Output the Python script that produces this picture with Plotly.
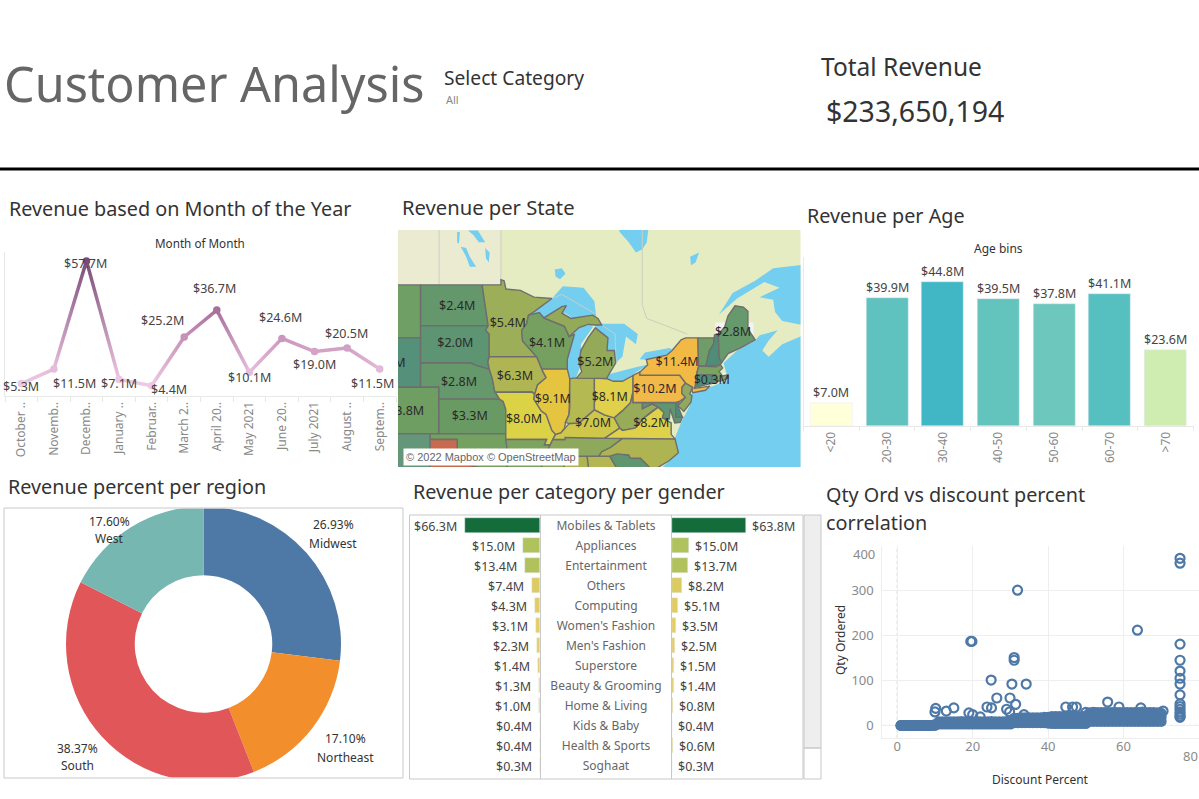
import math
import plotly.graph_objects as go

W, H = 1199, 799

# ---------- data ----------
months = ["October ..", "Novemb..", "Decemb..", "January ..", "Februar..", "March 2..", "April 20..",
          "May 2021", "June 20..", "July 2021", "August ..", "Septem.."]
month_rev = [5.3, 11.5, 57.7, 7.1, 4.4, 25.2, 36.7, 10.1, 24.6, 19.0, 20.5, 11.5]
month_col = ["#edc8e2", "#e6bcdc", "#7b4b77", "#ecc6e2", "#eec9e4", "#c791b8", "#aa6f9b",
             "#e6bedc", "#cb97bd", "#d3a4c6", "#d1a1c4", "#e4b9d8"]

age_bins = ["<20", "20-30", "30-40", "40-50", "50-60", "60-70", ">70"]
age_rev = [7.0, 39.9, 44.8, 39.5, 37.8, 41.1, 23.6]
age_col = ["#ffffd9", "#5fc2be", "#41b6c4", "#63c3bd", "#6ec7bc", "#56bfc0", "#cfedb0"]

regions = ["Midwest", "Northeast", "South", "West"]
region_pct = [26.93, 17.10, 38.37, 17.60]
region_col = ["#4e79a7", "#f28e2b", "#e15759", "#76b7b2"]

categories = ["Mobiles & Tablets", "Appliances", "Entertainment", "Others", "Computing", "Women's Fashion",
              "Men's Fashion", "Superstore", "Beauty & Grooming", "Home & Living", "Kids & Baby",
              "Health & Sports", "Soghaat"]
rev_left = [66.3, 15.0, 13.4, 7.4, 4.3, 3.1, 2.3, 1.4, 1.3, 1.0, 0.4, 0.4, 0.3]
rev_right = [63.8, 15.0, 13.7, 8.2, 5.1, 3.5, 2.5, 1.5, 1.4, 0.8, 0.4, 0.6, 0.3]
col_left = ["#146c3a", "#afc25c", "#b1c25c", "#dccb62", "#e2cc63", "#e4cd65", "#e5cd68",
            "#e5cd68", "#e5cd68", "#e5cd68", "#e5cd68", "#e5cd68", "#e5cd68"]
col_right = ["#146c3a", "#afc25c", "#b1c25c", "#dacb62", "#e0cc63", "#e4cd65", "#e5cd68",
             "#e5cd68", "#e5cd68", "#e5cd68", "#e5cd68", "#e5cd68", "#e5cd68"]

out_x = [75, 75, 75, 75, 75, 75, 75, 75, 75, 75, 75, 75, 75, 75, 75, 31.9, 63.7, 19.8, 19.5, 31, 31, 24.9, 30.4,
         34.2, 26.4, 29.9, 31.4, 23.8, 25, 29, 29.8, 33.6, 10.2, 10, 13, 15, 19, 20, 22, 44.7, 46.5, 47.5,
         55.8, 58.8, 64.6, 70.5, 52, 50]
out_y = [372, 361, 181, 145, 121, 105, 92, 68, 48, 42, 36, 30, 25, 20, 18, 301, 212, 187, 187, 151, 145, 101, 92,
         92, 61, 61, 47, 41, 39, 36, 30, 24, 38, 30, 32, 39, 28, 24, 19, 41, 41, 41,
         52, 41, 39, 32, 29, 29]
band_x = [1, 2, 3, 4, 5, 6, 7, 8, 9, 10, 11, 12, 13, 14, 15, 16, 17, 18, 19, 20, 21, 22, 23, 24, 25, 26, 27, 28, 29, 30,
          31, 32, 33, 34, 35, 36, 37, 38, 39, 40, 41, 42, 43, 44, 45, 46, 47, 48, 49, 50, 51, 52, 53, 54, 55, 56, 57,
          58, 59, 60, 61, 62, 63, 64, 65, 66, 67, 68, 69, 70]
band_low = [0, 0, 0, 0, 0, 0, 0, 0, 0, 0, 3, 3, 3, 3, 3, 3, 3, 3, 3, 3, 3, 3, 3, 3, 3, 3, 3, 3, 3, 3,
            6, 6, 6, 6, 6, 6, 6, 6, 6, 5, 4, 4, 4, 4, 4, 4, 4, 4, 4, 4, 9, 9, 9, 9, 9, 9, 9, 9, 9, 9,
            9, 9, 9, 9, 9, 9, 9, 9, 9, 9]
band_mid = [0, 0, 0, 0, 0, 0, 0, 0, 0, 1, 5, 5, 5, 5, 6, 5, 6, 6, 6, 5, 6, 6, 5, 6, 6, 6, 5, 6, 6, 6,
            11, 11, 12, 11, 12, 12, 11, 12, 12, 12, 12, 12, 13, 12, 12, 13, 12, 12, 13, 12, 19, 19, 19, 20, 19, 19, 20,
            19, 19, 20, 19, 20, 19, 19, 20, 19, 19, 20, 19, 19]
band_high = [0, 0, 0, 0, 0, 0, 0, 0, 0, 2, 8, 8, 8, 8, 8, 8, 9, 8, 8, 8, 9, 8, 8, 8, 9, 8, 8, 8, 9, 9,
             16, 16, 17, 17, 17, 17, 17, 17, 18, 18, 20, 20, 20, 20, 20, 21, 20, 20, 20, 21, 28, 28, 29, 29, 29, 29, 29,
             29, 29, 29, 29, 29, 29, 29, 30, 29, 29, 29, 28, 27]

land_bg = "#e6ecc2"
water = "#74cef0"
states = {
    "MT": ("#6f9f64", [(-116, 49), (-104.05, 49), (-104.05, 45), (-116, 45)]),
    "WY": ("#55907a", [(-111, 45), (-104.05, 45), (-104.05, 41), (-111, 41)]),
    "ND": ("#65976c", [(-104.05, 49), (-97.23, 49), (-96.9, 47.5), (-96.56, 45.94), (-104.05, 45.94)]),
    "SD": ("#5d9472", [(-104.05, 45.94), (-96.56, 45.94), (-96.85, 45.6), (-96.45, 45.3), (-96.45, 43.5), (-96.6, 43.1),
                       (-96.44, 42.49), (-97.9, 42.8), (-98.5, 43.0), (-104.05, 43.0)]),
    "NE": ("#65996b", [(-104.05, 43), (-98.5, 43), (-97.9, 42.8), (-96.44, 42.49), (-96.1, 41.7), (-95.85, 40.7),
                       (-95.31, 40), (-102.05, 40), (-102.05, 41), (-104.05, 41)]),
    "KS": ("#6a9a63", [(-102.05, 40), (-95.31, 40), (-94.9, 39.8), (-94.61, 39.1), (-94.62, 37), (-102.04, 37)]),
    "CO": ("#6f9e62", [(-109.05, 41), (-102.05, 41), (-102.04, 37), (-109.05, 37)]),
    "OK": ("#74a160", [(-103, 37), (-94.62, 37), (-94.43, 35.4), (-94.48, 33.64), (-96, 33.8), (-97.5, 33.9),
                       (-100, 34.56), (-100, 36.5), (-103, 36.5)]),
    "TX": ("#c96a4f", [(-103.04, 36.5), (-100, 36.5), (-100, 34.56), (-97.5, 33.9), (-94.04, 33.55), (-94.04, 31),
                       (-103.06, 31)]),
    "NM": ("#64977a", [(-109.05, 37), (-103, 37), (-103.04, 31), (-109.05, 31)]),
    "MN": ("#9dae58", [(-97.23, 49), (-95.15, 49), (-95.15, 49.38), (-94.8, 49.3), (-94.6, 48.7), (-93, 48.6),
                       (-91.5, 48.1), (-89.5, 48.0), (-91.5, 47), (-92.1, 46.75), (-92.3, 46.1), (-92.85, 45.6),
                       (-92.75, 44.75), (-91.2, 43.5), (-96.45, 43.5), (-96.45, 45.3), (-96.85, 45.6), (-96.56, 45.94),
                       (-96.9, 47.5)]),
    "WI": ("#75a05f", [(-92.1, 46.75), (-90.9, 46.95), (-90.4, 46.55), (-88.1, 45.9), (-87.6, 45.1), (-87.0, 45.3),
                       (-87.8, 43.3), (-87.8, 42.5), (-90.64, 42.5), (-91.2, 43.5), (-92.75, 44.75), (-92.85, 45.6),
                       (-92.3, 46.1)]),
    "IA": ("#aeb552", [(-96.45, 43.5), (-91.2, 43.5), (-90.64, 42.5), (-90.15, 41.8), (-91.1, 41.2), (-91.42, 40.38),
                       (-91.7, 40.6), (-95.77, 40.58), (-95.85, 40.7), (-96.1, 41.7), (-96.44, 42.49), (-96.6, 43.1)]),
    "MO": ("#dcd245", [(-95.77, 40.58), (-91.7, 40.6), (-91.42, 40.38), (-91.5, 40), (-90.7, 39), (-90.15, 38.7),
                       (-89.5, 37.3), (-89.1, 36.95), (-89.4, 36.5), (-89.7, 36), (-90.35, 36), (-90.1, 36.5),
                       (-94.62, 36.5), (-94.62, 37), (-94.61, 39.1), (-94.9, 39.8), (-95.31, 40)]),
    "AR": ("#7ca45f", [(-94.62, 36.5), (-90.1, 36.5), (-90.35, 36), (-89.7, 36), (-91.1, 33), (-94.04, 33),
                       (-94.04, 33.55), (-94.48, 33.64), (-94.43, 35.4)]),
    "MS": ("#8aa95c", [(-90.3, 35), (-88.2, 35), (-88.1, 32.8), (-91.1, 32.8)]),
    "AL": ("#aeb452", [(-88.2, 35), (-85.6, 35), (-85.2, 32.8), (-88.1, 32.8)]),
    "GA": ("#b3b652", [(-85.6, 35), (-83.1, 35), (-81, 32), (-85.2, 32)]),
    "SC": ("#5f9670", [(-83.1, 35), (-82.3, 35.2), (-81, 35.1), (-80.8, 34.8), (-79.7, 34.8), (-78.55, 33.86),
                       (-79.5, 33), (-81, 32)]),
    "NC": ("#aeb452", [(-84.32, 35), (-84.0, 35.4), (-83, 35.8), (-81.7, 36.59), (-75.87, 36.55), (-75.5, 35.3),
                       (-76.5, 34.6), (-77.9, 33.9), (-78.55, 33.86), (-79.7, 34.8), (-80.8, 34.8), (-81, 35.1),
                       (-82.3, 35.2), (-83.1, 35)]),
    "TN": ("#8fa95c", [(-90.3, 35), (-89.7, 36), (-89.4, 36.5), (-88.07, 36.5), (-88.05, 36.68), (-83.68, 36.6),
                       (-81.7, 36.59), (-83, 35.8), (-84.0, 35.4), (-84.32, 35)]),
    "KY": ("#cfc74a", [(-89.4, 36.5), (-89.1, 36.95), (-88.5, 37.1), (-87.6, 37.9), (-86.5, 37.95), (-85.4, 38.7),
                       (-84.8, 39.1), (-83.7, 38.65), (-82.6, 38.4), (-82, 37.5), (-83.68, 36.6), (-88.05, 36.68),
                       (-88.07, 36.5)]),
    "IL": ("#e5c43f", [(-90.64, 42.5), (-87.8, 42.5), (-87.53, 41.7), (-87.53, 39.35), (-87.6, 38.7), (-88.0, 38),
                       (-88.1, 37.5), (-88.5, 37.1), (-89.1, 36.95), (-89.5, 37.3), (-90.15, 38.7), (-90.7, 39),
                       (-91.5, 40), (-91.42, 40.38), (-91.1, 41.2), (-90.15, 41.8)]),
    "IN": ("#b5b952", [(-87.53, 41.7), (-87.2, 41.76), (-84.8, 41.76), (-84.8, 39.1), (-85.4, 38.7), (-86.5, 37.95),
                       (-87.6, 37.9), (-88.0, 38), (-87.6, 38.7), (-87.53, 39.35)]),
    "OH": ("#e0d04b", [(-84.8, 41.76), (-83.45, 41.73), (-82.7, 41.5), (-81.7, 41.5), (-80.52, 41.98), (-80.52, 40.64),
                       (-80.8, 39.7), (-81.7, 39), (-82.6, 38.4), (-83.7, 38.65), (-84.8, 39.1)]),
    "MI": ("#95aa58", [(-86.8, 41.76), (-84.8, 41.76), (-83.45, 41.73), (-83.1, 42.2), (-82.45, 43), (-82.6, 44),
                       (-83.4, 44), (-83.3, 45), (-84.7, 45.78), (-85.5, 45), (-86.3, 44), (-86.5, 43), (-86.2, 42.3)]),
    "MIU": ("#95aa58", [(-90.4, 46.55), (-88.4, 47.4), (-87.9, 47.47), (-88.4, 46.9), (-87.4, 46.5), (-86, 46.67),
                        (-85, 46.75), (-84.4, 46.5), (-84, 46), (-84.7, 46), (-85.5, 46.05), (-86.5, 45.8),
                        (-87.6, 45.1), (-88.1, 45.9)]),
    "WV": ("#97ab59", [(-82.6, 38.4), (-81.7, 39), (-80.8, 39.7), (-80.52, 40.64), (-80.52, 39.72), (-79.48, 39.72),
                       (-79.48, 39.2), (-78.4, 39.6), (-77.72, 39.32), (-78.35, 39), (-79.3, 38.4), (-80.3, 37.5),
                       (-81.7, 37.3), (-82, 37.5)]),
    "VA": ("#dfd24a", [(-83.68, 36.6), (-82, 37.5), (-81.7, 37.3), (-80.3, 37.5), (-79.3, 38.4), (-78.35, 39),
                       (-77.72, 39.32), (-77.1, 38.85), (-77.25, 38.4), (-76.3, 37.95), (-76.3, 36.95), (-75.87, 36.55),
                       (-81.7, 36.59)]),
    "MD": ("#5f9670", [(-79.48, 39.72), (-75.79, 39.72), (-75.79, 38.46), (-75.05, 38.45), (-75.3, 38.0), (-75.9, 37.95),
                       (-76.3, 38.9), (-76.4, 39.2), (-76.5, 38.3), (-77.25, 38.4), (-77.1, 38.85), (-77.72, 39.32),
                       (-78.4, 39.6), (-79.48, 39.2)]),
    "DE": ("#4a8d7a", [(-75.79, 39.72), (-75.4, 39.8), (-75.55, 39.4), (-75.05, 38.45), (-75.79, 38.46)]),
    "PA": ("#f0b948", [(-80.52, 41.98), (-79.76, 42.27), (-79.76, 42), (-75.35, 42), (-74.7, 41.36), (-75.1, 41),
                       (-75.13, 40.5), (-74.73, 40.15), (-75.4, 39.8), (-75.79, 39.72), (-80.52, 39.72), (-80.52, 40.64)]),
    "NJ": ("#8fa95e", [(-74.7, 41.36), (-73.9, 41), (-74.25, 40.45), (-74.0, 40.3), (-74.1, 39.75), (-74.9, 38.95),
                       (-75.55, 39.45), (-74.73, 40.15), (-75.13, 40.5), (-75.1, 41)]),
    "NY": ("#f2b945", [(-79.76, 42), (-79.76, 42.27), (-78.9, 42.85), (-79.05, 43.27), (-76.8, 43.63), (-76.2, 44.0),
                       (-75.2, 44.85), (-74.7, 45), (-73.34, 45), (-73.3, 43.6), (-73.25, 42.75), (-73.5, 42.05),
                       (-73.5, 41.3), (-73.65, 41), (-73.7, 40.9), (-72, 41.1), (-72.5, 40.75), (-73.9, 40.55),
                       (-74.0, 40.7), (-73.9, 41), (-74.7, 41.36), (-75.35, 42)]),
    "VT": ("#6e9d67", [(-73.34, 45), (-71.5, 45), (-71.6, 44.5), (-72.05, 44), (-72.46, 42.73), (-73.25, 42.75),
                       (-73.3, 43.6)]),
    "NH": ("#4d8e78", [(-71.5, 45.25), (-71.08, 45.3), (-70.98, 43.4), (-70.7, 43.05), (-70.85, 42.87), (-72.46, 42.73),
                       (-72.05, 44), (-71.6, 44.5)]),
    "ME": ("#66996c", [(-71.08, 45.3), (-70.4, 45.8), (-70.0, 46.7), (-69.23, 47.46), (-68.3, 47.35), (-67.8, 47.05),
                       (-67.8, 45.7), (-67.0, 44.85), (-68.5, 44.25), (-70, 43.75), (-70.7, 43.05), (-70.98, 43.4)]),
    "MA": ("#7aa360", [(-73.5, 42.05), (-73.25, 42.75), (-71.3, 42.7), (-70.85, 42.87), (-70.6, 42.6), (-71, 42.3),
                       (-70.6, 41.95), (-70, 42.05), (-70.0, 41.75), (-70.6, 41.55), (-71.12, 41.5), (-71.38, 42.02)]),
    "CT": ("#4f8f78", [(-73.5, 42.05), (-71.8, 42.02), (-71.85, 41.32), (-73.65, 41)]),
    "RI": ("#4e8f78", [(-71.8, 42.02), (-71.38, 42.02), (-71.12, 41.5), (-71.85, 41.32)]),
}
land_extent = [(-110, 30), (-55, 30), (-55, 56), (-110, 56)]
west_canada = [(-110, 49), (-95.15, 49), (-95.15, 56), (-110, 56)]
water_bodies = [
    [(-61, 33), (-78.5, 33), (-76.5, 34.6), (-75.5, 35.3), (-75.9, 36.6), (-75.2, 38), (-74, 39.8), (-74, 40.6),
     (-72, 41), (-70, 41.6), (-70.5, 43), (-69, 44), (-67, 44.8), (-66.5, 45.2), (-64.5, 45.6), (-65.5, 44.8),
     (-66.2, 44), (-65.5, 43.5), (-64, 44.5), (-61, 45.4), (-61, 45.9), (-64, 46.3), (-64.8, 47), (-65, 47.9),
     (-66.5, 48.1), (-64.3, 48.8), (-66, 49.2), (-69, 48), (-71, 46.8), (-69.5, 48.4), (-67, 49.3), (-65, 50.2), (-61, 50.5)],
    [(-92.1, 46.7), (-89.5, 48.0), (-88.3, 48.9), (-86, 48.8), (-84.8, 47.8), (-84.6, 46.6), (-85, 46.7), (-87, 46.4),
     (-88, 46.9), (-90.5, 46.5)],
    [(-87.9, 41.6), (-86.9, 41.7), (-86.2, 43), (-86.3, 44.5), (-85, 45.8), (-85, 46.0), (-87, 45.9), (-88, 44.5),
     (-87.8, 43), (-87.8, 42)],
    [(-84.7, 46.1), (-83.5, 46.1), (-81.5, 46.1), (-80, 45.3), (-80.2, 44.5), (-81.3, 45.1), (-81.7, 43.5), (-82.45, 43),
     (-82.6, 44), (-83.4, 44), (-83.3, 45), (-84.7, 45.8)],
    [(-83.45, 41.7), (-82.7, 41.5), (-81.7, 41.5), (-78.9, 42.85), (-80, 42.7), (-83.1, 42.1)],
    [(-79.8, 43.3), (-79, 43.27), (-76.8, 43.63), (-76.2, 44.1), (-76.5, 44.2), (-79.2, 43.85)],
    [(-98.8, 52.8), (-97.7, 52.8), (-96.9, 52.0), (-97.6, 52.0), (-98.2, 52.5)],
    [(-99.6, 51.7), (-99, 51.6), (-98.6, 51.0), (-97.9, 50.3), (-98.6, 50.3), (-99.0, 51.0)],
    [(-96.9, 51.6), (-96.4, 51.3), (-96.5, 50.6), (-96.8, 50.9)],
    [(-100, 52.7), (-99.7, 52.7), (-99.8, 51.9), (-100, 52)],
    [(-89.2, 50.1), (-88.4, 50.2), (-88.0, 49.8), (-88.6, 49.4), (-89.1, 49.6)],
    [(-82.2, 53), (-78.8, 53), (-79, 52), (-79.5, 51.5), (-80.2, 51.3), (-81, 52), (-82, 52.7)],
    [(-74.2, 51), (-73.2, 51.3), (-73.6, 50.6), (-74.1, 50.4)],
]
halos = [[(-71.4, 45), (-67.2, 45), (-67.2, 46.2), (-71.4, 46.2)],
         [(-70.6, 40.8), (-69.3, 40.8), (-69.3, 42.2), (-70.6, 42.2)],
         [(-78, 43.5), (-76.2, 43.5), (-76.2, 43.8), (-78, 43.8)]]
borders = [
    [(-89.5, 48), (-88.4, 48.3), (-84.8, 46.9)],
    [(-84, 46), (-82.5, 45.3), (-82.4, 43)],
    [(-79.5, 53), (-79.5, 47.5), (-79, 46.5), (-74.5, 45.3)],
    [(-95.15, 49.4), (-95.15, 53)],
    [(-102, 49), (-102, 53)],
    [(-74.5, 45), (-71.5, 45)],
]
map_labels = ["$2.4M", "$5.4M", "$4.1M", "$2.0M", "$5.2M", "$2.8M", "$6.3M", "$9.1M", "$8.1M", "$3.3M", "$8.0M",
              "$7.0M", "$8.2M", "$10.2M", "$11.4M", "$0.3M", "$2.8M", "$1.9M", "$3.8M"]
label_lon = [-100.0, -94.4, -90.05, -100.2, -84.7, -99.8, -93.6, -89.4, -83.1, -98.6, -92.6,
             -84.95, -78.5, -78.1, -75.65, -71.8, -69.45, -107.7, -105.65]
label_lat = [47.4, 46.1, 44.5, 44.5, 43.03, 41.4, 41.9, 39.9, 40.1, 38.45, 38.2,
             37.85, 37.85, 40.8, 43.0, 41.5, 45.4, 42.9, 38.95]

# ---------- helpers ----------
FONT = "Noto Sans"


def dx(a, b):
    return [a / W, b / W]


def dy(top, bottom):
    return [1 - bottom / H, 1 - top / H]


def merc(lat):
    return 180 / math.pi * math.log(math.tan(math.pi / 4 + math.radians(lat) / 2))


annotations = []


def label(x, y, text, size, color="#333333", anchor="left", font=FONT, **kw):
    annotations.append(dict(xref="paper", yref="paper", x=(x - 2 if anchor == "left" else x) / W, y=1 - y / H,
                            text=text, showarrow=False, xanchor=anchor, yanchor="middle",
                            font=dict(size=size, color=color, family=font), **kw))


fig = go.Figure()

# ---------- line chart ----------
xs = list(range(len(months)))
for i in range(len(months) - 1):
    fig.add_trace(go.Scatter(x=xs[i:i + 2], y=month_rev[i:i + 2], mode="lines", hoverinfo="skip",
                             customdata=month_col[i:i + 2],
                             line=dict(width=3.5, color=month_col[i] if month_rev[i] < month_rev[i + 1] else month_col[i + 1]),
                             showlegend=False, xaxis="x", yaxis="y", meta="grad"))
fig.add_trace(go.Scatter(x=xs, y=month_rev, mode="markers", marker=dict(size=7.5, color=month_col), showlegend=False,
                         xaxis="x", yaxis="y"))
month_dx = [0, 21, -1, 0, 17, -22, -2, 0, -1, 0, -1, -7]
month_dy = [-3, -14, -3, -4, -4, 17, 22, -5, 21, -13, 15, -14]
for i, v in enumerate(month_rev):
    annotations.append(dict(xref="x", yref="y", x=xs[i], y=v, text=f"${v:.1f}M", showarrow=False, xshift=month_dx[i],
                            yshift=month_dy[i], font=dict(size=12.5, color="#444444", family=FONT)))

# ---------- map ----------
MX0, MXS = -106.55, 9.03
map_kw = dict(xaxis="x2", yaxis="y2", hoverinfo="skip", showlegend=False)


def poly(pts, fill, line=None, width=0):
    fig.add_trace(go.Scatter(x=[p[0] for p in pts] + [pts[0][0]], y=[merc(p[1]) for p in pts] + [merc(pts[0][1])],
                             mode="lines", fill="toself", fillcolor=fill,
                             line=dict(color=line or fill, width=width), **map_kw))


poly(land_extent, land_bg)
poly(west_canada, "#ebebd2")
for h in halos:
    poly(h, "#f4f4f4")
for w in water_bodies:
    poly(w, water)
for b in borders:
    fig.add_trace(go.Scatter(x=[p[0] for p in b], y=[merc(p[1]) for p in b], mode="lines",
                             line=dict(color="#c9cfc0", width=1), **map_kw))
for code, (c, pts) in states.items():
    poly(pts, c, "#6e6e6e", 1.4)
fig.add_trace(go.Scatter(x=label_lon, y=[merc(v) for v in label_lat], text=map_labels, mode="text",
                         textfont=dict(size=12.5, color="#2a2a2a", family=FONT), cliponaxis=True, **map_kw))

# ---------- age bars ----------
age_pos = list(range(7))
fig.add_trace(go.Bar(x=age_pos, y=age_rev, width=0.755, marker=dict(color=age_col), showlegend=False,
                     xaxis="x3", yaxis="y3"))
for p, v in zip(age_pos, age_rev):
    annotations.append(dict(xref="x3", yref="y3", x=p, y=v, text=f"${v:.1f}M", showarrow=False, yanchor="bottom",
                            font=dict(size=12.5, color="#444444", family=FONT)))

# ---------- pie ----------
fig.add_trace(go.Pie(labels=regions, values=region_pct, hole=0.5, sort=False, direction="clockwise", rotation=0,
                     marker=dict(colors=region_col), textinfo="none", showlegend=False,
                     domain=dict(x=dx(66, 341), y=dy(506.5, 781.5))))

# ---------- butterfly ----------
rows = list(range(len(categories)))
fig.add_trace(go.Bar(y=rows, x=rev_left, orientation="h", width=0.75, marker=dict(color=col_left), showlegend=False,
                     xaxis="x4", yaxis="y4"))
fig.add_trace(go.Bar(y=rows, x=rev_right, orientation="h", width=0.75, marker=dict(color=col_right), showlegend=False,
                     xaxis="x5", yaxis="y5"))
for r, a, b in zip(rows, rev_left, rev_right):
    annotations.append(dict(xref="x4", yref="y4", x=a, y=r, text=f"${a:.1f}M", showarrow=False, xanchor="right",
                            xshift=-6, yshift=-0.5, font=dict(size=12.5, color="#444444", family=FONT)))
    annotations.append(dict(xref="x5", yref="y5", x=b, y=r, text=f"${b:.1f}M", showarrow=False, xanchor="left",
                            xshift=4, yshift=-0.5, font=dict(size=12.5, color="#444444", family=FONT)))
fig.add_trace(go.Scatter(y=rows, x=[0.5] * len(rows), text=categories, mode="text", showlegend=False,
                         textfont=dict(size=12, color="#666666", family=FONT), xaxis="x6", yaxis="y6"))

# ---------- scatter ----------
sx = band_x + band_x + band_x
sy = band_low + band_mid + band_high
fig.add_trace(go.Scatter(x=sx, y=sy, mode="markers", showlegend=False, xaxis="x7", yaxis="y7",
                         marker=dict(size=11, color="#4e79a7", line=dict(width=0))))
fig.add_trace(go.Scatter(x=out_x, y=out_y, mode="markers", showlegend=False, xaxis="x7", yaxis="y7",
                         marker=dict(size=9, color="rgba(0,0,0,0)", line=dict(color="#4e79a7", width=2.2))))

# ---------- text ----------
label(4, 83, "Customer Analysis", 48.5, "#666666")
label(444, 77, "Select Category", 19.2, "#333333")
label(446, 100, "All", 11, "#888888")
label(821, 66, "Total Revenue", 24.5, "#333333")
label(826, 111, "$233,650,194", 28.5, "#333333")
label(9, 209, "Revenue based on Month of the Year", 19.8)
label(402, 207, "Revenue per State", 20.2)
label(807, 215, "Revenue per Age", 19.8)
label(8, 486, "Revenue percent per region", 19.8)
label(413, 492, "Revenue per category per gender", 19.8)
label(826, 494, "Qty Ord vs discount percent", 19.8)
label(826, 522, "correlation", 19.8)
label(200, 243, "Month of Month", 11.7, anchor="center")
label(998, 248, "Age bins", 12, anchor="center")
label(1040, 779, "Discount Percent", 12, anchor="center")
label(840, 640, "Qty Ordered", 12, anchor="center", textangle=-90)
label(864, 554, "400", 13, "#8a8a8a", anchor="center")
label(1190, 756, "80", 13, "#8a8a8a", anchor="center")
region_pos = [(333, 524, 333, 543), (345, 738, 345, 757), (77, 748, 77, 765), (109, 521, 109, 538)]
for name, pct, (a, b, c, d) in zip(regions, region_pct, region_pos):
    label(a, b, f"{pct:.2f}%", 12, "#333333", anchor="center")
    label(c, d, name, 12, "#333333", anchor="center")
label(490.5, 456.5, "© 2022 Mapbox © OpenStreetMap", 11, "#666666", anchor="center", font="Liberation Sans",
      bgcolor="#ffffff", borderpad=2)


# ---------- shapes ----------
def rect(x0, y0, x1, y1, line="#c8c8c8", fill=None, width=1):
    return dict(type="rect", xref="paper", yref="paper", x0=x0 / W, x1=x1 / W, y0=1 - y0 / H, y1=1 - y1 / H,
                line=dict(color=line, width=width), fillcolor=fill, layer="above")


shapes = [
    dict(type="rect", xref="paper", yref="paper", x0=0, x1=1, y0=1 - 170.5 / H, y1=1 - 167.5 / H,
         fillcolor="#000000", line=dict(width=0), layer="above"),
    rect(0, 500, 410, 508, "#ffffff", "#ffffff"),
    rect(0, 778, 410, 790, "#ffffff", "#ffffff"),
    rect(4, 508, 403, 778),
    rect(409.5, 515, 803, 779),
    dict(type="line", xref="paper", yref="paper", x0=540.5 / W, x1=540.5 / W, y0=1 - 515 / H, y1=1 - 779 / H,
         line=dict(color="#c8c8c8", width=1), layer="above"),
    dict(type="line", xref="paper", yref="paper", x0=671.5 / W, x1=671.5 / W, y0=1 - 515 / H, y1=1 - 779 / H,
         line=dict(color="#c8c8c8", width=1), layer="above"),
    rect(804, 515, 821, 748, "#c8c8c8", "#eeeeee"),
    rect(804, 748, 821, 779),
    dict(type="line", xref="x7", yref="y7", x0=0, x1=0, y0=-28, y1=400, line=dict(color="#b5b5b5", width=1, dash="dot"),
         layer="below"),
    dict(type="line", xref="x7", yref="y7", x0=-4, x1=80, y0=0, y1=0, line=dict(color="#b5b5b5", width=1, dash="dot"),
         layer="below"),
]

hidden = dict(showgrid=False, zeroline=False, showticklabels=False, ticks="", showline=False)
light = "#e8e8e8"
tick_font = dict(size=12, color="#888888", family=FONT)

fig.update_layout(
    width=W, height=H, margin=dict(l=0, r=0, t=0, b=0), autosize=False,
    paper_bgcolor="#ffffff", plot_bgcolor="#ffffff", font=dict(family=FONT),
    annotations=annotations, shapes=shapes, hovermode=False, bargap=0,
    xaxis=dict(domain=dx(5, 396), range=[-0.5, 11.5], tickmode="array", tickvals=xs, ticktext=months, tickangle=-90,
               tickfont=tick_font, showgrid=False, zeroline=False, showline=True, linecolor=light, ticks="",
               minor=dict(ticks="outside", ticklen=5, tick0=-0.5, dtick=1, tickcolor=light), anchor="y"),
    yaxis=dict(domain=dy(252, 396), range=[0, 61.5], showgrid=False, zeroline=False, showticklabels=False,
               showline=True, linecolor=light, anchor="x"),
    xaxis2=dict(domain=dx(398, 800.5), range=[MX0, MX0 + 402.5 / MXS], anchor="y2", **hidden),
    yaxis2=dict(domain=dy(230, 467), range=[36.2, 36.2 + 237 / MXS], anchor="x2", **hidden),
    xaxis3=dict(domain=dx(803.5, 1193.5), range=[-0.5, 6.5], tickmode="array", tickvals=age_pos,
                ticktext=age_bins, tickangle=-90, tickfont=tick_font, showgrid=False, zeroline=False, showline=True,
                linecolor=light, ticks="", minor=dict(ticks="outside", ticklen=4, tick0=-0.5, dtick=1, tickcolor=light),
                anchor="y3"),
    yaxis3=dict(domain=dy(257, 426), range=[0, 52.5], showgrid=False, zeroline=False, showticklabels=False,
                showline=True, linecolor=light, anchor="x3"),
    xaxis4=dict(domain=dx(410, 540), range=[114.9, 0], anchor="y4", **hidden),
    yaxis4=dict(domain=dy(515, 779), range=[12.67, -0.53], anchor="x4", **hidden),
    xaxis5=dict(domain=dx(672, 803), range=[0, 112.4], anchor="y5", **hidden),
    yaxis5=dict(domain=dy(515, 779), range=[12.67, -0.53], anchor="x5", **hidden),
    xaxis6=dict(domain=dx(541, 671), range=[0, 1], anchor="y6", **hidden),
    yaxis6=dict(domain=dy(515, 779), range=[12.62, -0.58], anchor="x6", **hidden),
    xaxis7=dict(domain=dx(882.3, 1199), range=[-3.97, 80.03], tickmode="array", tickvals=[0, 20, 40, 60, 80],
                ticktext=["0", "20", "40", "60", ""], tickfont=dict(size=13, color="#8a8a8a", family=FONT),
                ticklabelstandoff=-4,
                showgrid=True, gridcolor="#eeeeee", zeroline=False, showline=True, linecolor="#eeeeee", anchor="y7"),
    yaxis7=dict(domain=dy(545.7, 738), range=[-28, 400], tickmode="array", tickvals=[0, 100, 200, 300, 400],
                ticktext=["0", "100", "200", "300", ""], tickfont=dict(size=13, color="#8a8a8a", family=FONT),
                ticklabelstandoff=5,
                showgrid=True, gridcolor="#eeeeee", zeroline=False, showline=True, linecolor="#eeeeee", anchor="x7"),
)

post = """
document.body.style.margin = '0';
var gd = document.getElementById('{plot_id}');
var paths = gd.querySelectorAll('.subplot.xy .scatterlayer .trace path.js-line');
var svg = gd.querySelector('svg.main-svg');
var defs = document.createElementNS('http://www.w3.org/2000/svg', 'defs');
svg.appendChild(defs);
var n = 0;
gd.data.forEach(function (t) {
  if (t.meta !== 'grad') return;
  var p = paths[n];
  var m = (p.getAttribute('d') || '').match(/M([-\\d.]+),([-\\d.]+)L([-\\d.]+),([-\\d.]+)/);
  if (m) {
    var g = document.createElementNS('http://www.w3.org/2000/svg', 'linearGradient');
    g.setAttribute('id', 'seg' + n);
    g.setAttribute('gradientUnits', 'userSpaceOnUse');
    g.setAttribute('x1', m[1]); g.setAttribute('y1', m[2]);
    g.setAttribute('x2', m[3]); g.setAttribute('y2', m[4]);
    [0, 1].forEach(function (k) {
      var s = document.createElementNS('http://www.w3.org/2000/svg', 'stop');
      s.setAttribute('offset', k); s.setAttribute('stop-color', t.customdata[k]);
      g.appendChild(s);
    });
    defs.appendChild(g);
    p.style.stroke = 'url(#seg' + n + ')';
  }
  n += 1;
});
"""
fig.write_html("out.html", post_script=post, config={"displayModeBar": False})
